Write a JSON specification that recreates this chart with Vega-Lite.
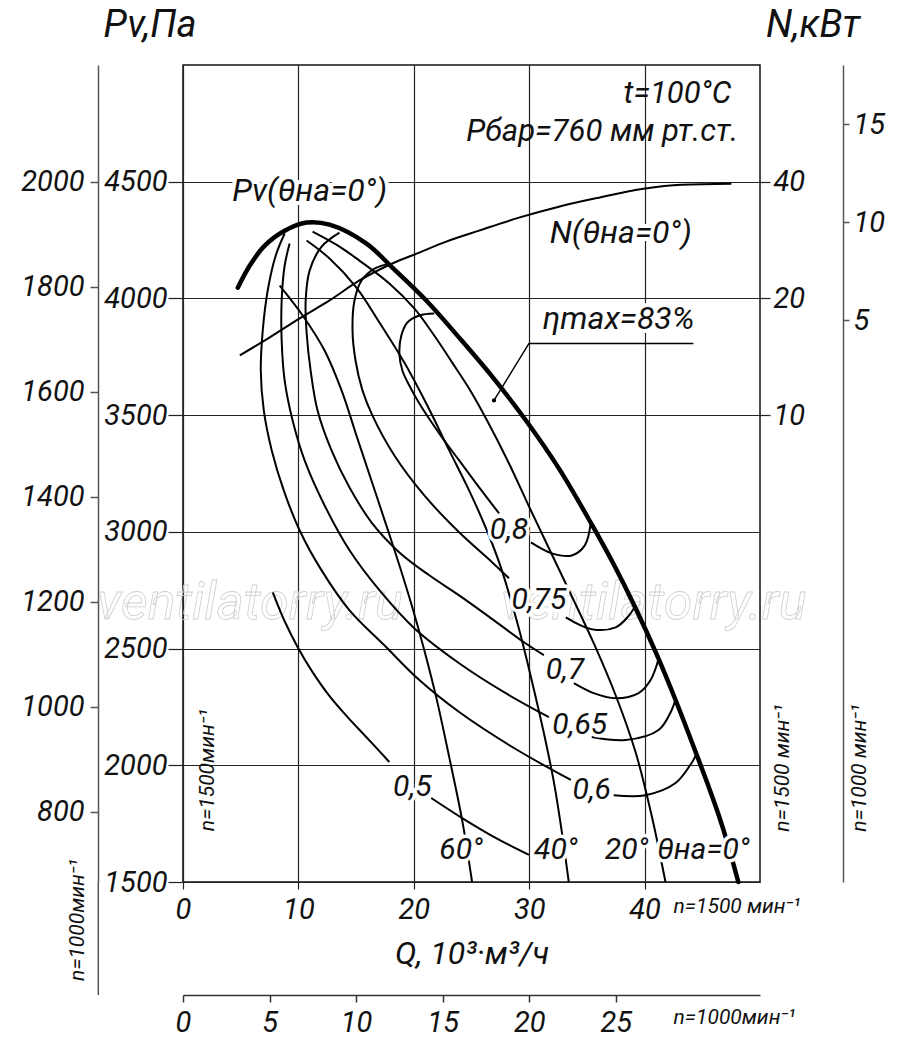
{
"$schema":"https://vega.github.io/schema/vega-lite/v6.json",
"width":577,"height":817,
"autosize":{"type":"none"},
"padding":{"left":183,"top":65,"right":140,"bottom":162},
"background":"white",
"config":{
"font":"Roboto",
"view":{"stroke":"#111","strokeWidth":1.5},
"axis":{"labelFont":"Roboto","labelFontStyle":"italic","labelColor":"#111","titleFont":"Roboto","titleColor":"#111"},
"text":{"font":"Roboto","fontStyle":"italic","color":"#111"}
},
"datasets":{
"thick":[
{"Q":4.75,"Pv":4046},{"Q":5.79,"Pv":4141},{"Q":7.08,"Pv":4226},{"Q":8.81,"Pv":4290},{"Q":10.71,"Pv":4325},{"Q":12.70,"Pv":4316},{"Q":15.90,"Pv":4235},{"Q":18.14,"Pv":4132},{"Q":21.08,"Pv":3991},{"Q":23.93,"Pv":3832},{"Q":26.78,"Pv":3666},{"Q":29.72,"Pv":3477},{"Q":32.57,"Pv":3272},{"Q":35.42,"Pv":3032},{"Q":37.32,"Pv":2861},{"Q":39.22,"Pv":2673},{"Q":41.04,"Pv":2476},{"Q":42.76,"Pv":2270},{"Q":44.49,"Pv":2048},{"Q":45.53,"Pv":1911},{"Q":46.39,"Pv":1791},{"Q":47.26,"Pv":1654},{"Q":48.12,"Pv":1500}
],
"thin":[
{"c":"t20","i":0,"Q":11.23,"Pv":4286},{"c":"t20","i":1,"Q":13.56,"Pv":4222},{"c":"t20","i":2,"Q":15.29,"Pv":4162},{"c":"t20","i":3,"Q":17.88,"Pv":4064},{"c":"t20","i":4,"Q":20.04,"Pv":3957},{"c":"t20","i":5,"Q":21.77,"Pv":3841},{"c":"t20","i":6,"Q":23.33,"Pv":3725},{"c":"t20","i":7,"Q":24.79,"Pv":3614},{"c":"t20","i":8,"Q":26.35,"Pv":3477},{"c":"t20","i":9,"Q":28.25,"Pv":3293},{"c":"t20","i":10,"Q":29.98,"Pv":3109},{"c":"t20","i":11,"Q":31.79,"Pv":2921},{"c":"t20","i":12,"Q":33.69,"Pv":2724},{"c":"t20","i":13,"Q":35.59,"Pv":2523},{"c":"t20","i":14,"Q":37.49,"Pv":2300},{"c":"t20","i":15,"Q":39.22,"Pv":2056},{"c":"t20","i":16,"Q":40.60,"Pv":1787},{"c":"t20","i":17,"Q":41.81,"Pv":1500},
{"c":"t40","i":0,"Q":10.71,"Pv":4248},{"c":"t40","i":1,"Q":12.70,"Pv":4171},{"c":"t40","i":2,"Q":15.03,"Pv":4046},{"c":"t40","i":3,"Q":17.02,"Pv":3897},{"c":"t40","i":4,"Q":19.18,"Pv":3725},{"c":"t40","i":5,"Q":21.17,"Pv":3541},{"c":"t40","i":6,"Q":23.07,"Pv":3349},{"c":"t40","i":7,"Q":24.79,"Pv":3178},{"c":"t40","i":8,"Q":26.18,"Pv":3024},{"c":"t40","i":9,"Q":27.39,"Pv":2870},{"c":"t40","i":10,"Q":28.42,"Pv":2707},{"c":"t40","i":11,"Q":29.37,"Pv":2536},{"c":"t40","i":12,"Q":30.32,"Pv":2343},{"c":"t40","i":13,"Q":31.27,"Pv":2138},{"c":"t40","i":14,"Q":32.14,"Pv":1928},{"c":"t40","i":15,"Q":32.83,"Pv":1714},{"c":"t40","i":16,"Q":33.43,"Pv":1500},
{"c":"t60","i":0,"Q":8.38,"Pv":4055},{"c":"t60","i":1,"Q":10.37,"Pv":3927},{"c":"t60","i":2,"Q":12.27,"Pv":3777},{"c":"t60","i":3,"Q":13.74,"Pv":3606},{"c":"t60","i":4,"Q":15.03,"Pv":3413},{"c":"t60","i":5,"Q":16.33,"Pv":3220},{"c":"t60","i":6,"Q":17.62,"Pv":3028},{"c":"t60","i":7,"Q":18.75,"Pv":2857},{"c":"t60","i":8,"Q":19.87,"Pv":2677},{"c":"t60","i":9,"Q":20.91,"Pv":2493},{"c":"t60","i":10,"Q":21.94,"Pv":2292},{"c":"t60","i":11,"Q":23.07,"Pv":2035},{"c":"t60","i":12,"Q":24.19,"Pv":1765},{"c":"t60","i":13,"Q":25.05,"Pv":1500},
{"c":"e80a","i":0,"Q":21.77,"Pv":3935},{"c":"e80a","i":1,"Q":20.48,"Pv":3927},{"c":"e80a","i":2,"Q":19.44,"Pv":3897},{"c":"e80a","i":3,"Q":18.92,"Pv":3841},{"c":"e80a","i":4,"Q":18.75,"Pv":3764},{"c":"e80a","i":5,"Q":19.01,"Pv":3691},{"c":"e80a","i":6,"Q":19.61,"Pv":3627},{"c":"e80a","i":7,"Q":20.48,"Pv":3550},{"c":"e80a","i":8,"Q":22.46,"Pv":3404},{"c":"e80a","i":9,"Q":23.93,"Pv":3306},{"c":"e80a","i":10,"Q":25.40,"Pv":3208},{"c":"e80a","i":11,"Q":26.52,"Pv":3135},{"c":"e80a","i":12,"Q":27.39,"Pv":3079},
{"c":"e80b","i":0,"Q":30.15,"Pv":2955},{"c":"e80b","i":1,"Q":31.97,"Pv":2908},{"c":"e80b","i":2,"Q":33.69,"Pv":2899},{"c":"e80b","i":3,"Q":34.82,"Pv":2942},{"c":"e80b","i":4,"Q":35.33,"Pv":3036},
{"c":"e75a","i":0,"Q":17.88,"Pv":4149},{"c":"e75a","i":1,"Q":16.59,"Pv":4128},{"c":"e75a","i":2,"Q":15.46,"Pv":4076},{"c":"e75a","i":3,"Q":14.86,"Pv":3991},{"c":"e75a","i":4,"Q":14.69,"Pv":3862},{"c":"e75a","i":5,"Q":14.95,"Pv":3734},{"c":"e75a","i":6,"Q":15.55,"Pv":3606},{"c":"e75a","i":7,"Q":16.41,"Pv":3499},{"c":"e75a","i":8,"Q":18.32,"Pv":3327},{"c":"e75a","i":9,"Q":20.91,"Pv":3156},{"c":"e75a","i":10,"Q":23.93,"Pv":2998},{"c":"e75a","i":11,"Q":26.78,"Pv":2870},{"c":"e75a","i":12,"Q":28.25,"Pv":2801},
{"c":"e75b","i":0,"Q":33.17,"Pv":2634},{"c":"e75b","i":1,"Q":35.42,"Pv":2583},{"c":"e75b","i":2,"Q":37.49,"Pv":2591},{"c":"e75b","i":3,"Q":38.62,"Pv":2640},{"c":"e75b","i":4,"Q":39.22,"Pv":2685},
{"c":"e70a","i":0,"Q":13.56,"Pv":4282},{"c":"e70a","i":1,"Q":12.01,"Pv":4222},{"c":"e70a","i":2,"Q":10.97,"Pv":4119},{"c":"e70a","i":3,"Q":10.63,"Pv":3991},{"c":"e70a","i":4,"Q":10.71,"Pv":3854},{"c":"e70a","i":5,"Q":11.06,"Pv":3691},{"c":"e70a","i":6,"Q":11.66,"Pv":3520},{"c":"e70a","i":7,"Q":12.87,"Pv":3349},{"c":"e70a","i":8,"Q":14.43,"Pv":3190},{"c":"e70a","i":9,"Q":16.33,"Pv":3041},{"c":"e70a","i":10,"Q":18.75,"Pv":2912},{"c":"e70a","i":11,"Q":21.34,"Pv":2814},{"c":"e70a","i":12,"Q":23.93,"Pv":2728},{"c":"e70a","i":13,"Q":26.95,"Pv":2621},{"c":"e70a","i":14,"Q":29.55,"Pv":2527},{"c":"e70a","i":15,"Q":31.27,"Pv":2472},
{"c":"e70b","i":0,"Q":33.87,"Pv":2352},{"c":"e70b","i":1,"Q":35.59,"Pv":2309},{"c":"e70b","i":2,"Q":37.49,"Pv":2287},{"c":"e70b","i":3,"Q":39.48,"Pv":2309},{"c":"e70b","i":4,"Q":40.52,"Pv":2365},{"c":"e70b","i":5,"Q":41.21,"Pv":2455},
{"c":"e65a","i":0,"Q":9.24,"Pv":4235},{"c":"e65a","i":1,"Q":8.81,"Pv":4141},{"c":"e65a","i":2,"Q":8.55,"Pv":3991},{"c":"e65a","i":3,"Q":8.55,"Pv":3820},{"c":"e65a","i":4,"Q":8.81,"Pv":3648},{"c":"e65a","i":5,"Q":9.50,"Pv":3477},{"c":"e65a","i":6,"Q":10.54,"Pv":3306},{"c":"e65a","i":7,"Q":12.27,"Pv":3113},{"c":"e65a","i":8,"Q":14.43,"Pv":2921},{"c":"e65a","i":9,"Q":17.02,"Pv":2750},{"c":"e65a","i":10,"Q":20.04,"Pv":2587},{"c":"e65a","i":11,"Q":23.93,"Pv":2437},{"c":"e65a","i":12,"Q":27.82,"Pv":2313},{"c":"e65a","i":13,"Q":31.71,"Pv":2206},
{"c":"e65b","i":0,"Q":35.42,"Pv":2121},{"c":"e65b","i":1,"Q":38.36,"Pv":2108},{"c":"e65b","i":2,"Q":41.21,"Pv":2151},{"c":"e65b","i":3,"Q":42.33,"Pv":2235},{"c":"e65b","i":4,"Q":42.68,"Pv":2283},
{"c":"e60a","i":0,"Q":8.81,"Pv":4278},{"c":"e60a","i":1,"Q":8.03,"Pv":4183},{"c":"e60a","i":2,"Q":7.34,"Pv":4034},{"c":"e60a","i":3,"Q":6.91,"Pv":3862},{"c":"e60a","i":4,"Q":6.74,"Pv":3691},{"c":"e60a","i":5,"Q":7.00,"Pv":3520},{"c":"e60a","i":6,"Q":7.69,"Pv":3349},{"c":"e60a","i":7,"Q":8.73,"Pv":3178},{"c":"e60a","i":8,"Q":10.11,"Pv":3006},{"c":"e60a","i":9,"Q":12.01,"Pv":2835},{"c":"e60a","i":10,"Q":14.43,"Pv":2664},{"c":"e60a","i":11,"Q":17.45,"Pv":2514},{"c":"e60a","i":12,"Q":20.48,"Pv":2365},{"c":"e60a","i":13,"Q":23.93,"Pv":2228},{"c":"e60a","i":14,"Q":28.68,"Pv":2074},{"c":"e60a","i":15,"Q":33.61,"Pv":1937},
{"c":"e60b","i":0,"Q":37.32,"Pv":1872},{"c":"e60b","i":1,"Q":40.09,"Pv":1872},{"c":"e60b","i":2,"Q":42.68,"Pv":1924},{"c":"e60b","i":3,"Q":44.06,"Pv":2009},{"c":"e60b","i":4,"Q":44.49,"Pv":2048},
{"c":"e50a","i":0,"Q":7.78,"Pv":2741},{"c":"e50a","i":1,"Q":8.81,"Pv":2617},{"c":"e50a","i":2,"Q":9.94,"Pv":2506},{"c":"e50a","i":3,"Q":11.23,"Pv":2399},{"c":"e50a","i":4,"Q":12.70,"Pv":2296},{"c":"e50a","i":5,"Q":14.34,"Pv":2202},{"c":"e50a","i":6,"Q":15.98,"Pv":2116},{"c":"e50a","i":7,"Q":17.88,"Pv":2014},
{"c":"e50b","i":0,"Q":21.51,"Pv":1860},{"c":"e50b","i":1,"Q":24.19,"Pv":1774},{"c":"e50b","i":2,"Q":27.13,"Pv":1688},{"c":"e50b","i":3,"Q":29.98,"Pv":1616}
],
"ptr":[{"i":0,"Q":26.95,"Pv":3563},{"i":1,"Q":29.98,"Pv":3807},{"i":2,"Q":44.23,"Pv":3807}],
"dot":[{"Q":26.95,"Pv":3563}],
"ext":[{"Q":-7.34,"Pv":1016,"Pv2":1500}],
"power":[
{"Q":4.92,"N":14.26},{"Q":7.52,"N":15.87},{"Q":10.11,"N":17.77},{"Q":12.70,"N":19.76},{"Q":15.29,"N":22.25},{"Q":18.14,"N":24.61},{"Q":20.48,"N":26.26},{"Q":22.81,"N":28.03},{"Q":25.66,"N":29.92},{"Q":29.11,"N":32.31},{"Q":32.57,"N":34.49},{"Q":36.03,"N":36.38},{"Q":39.91,"N":38.37},{"Q":43.20,"N":39.29},{"Q":47.52,"N":39.53}
],
"lab":[
{"t":"0,8","Q":28.25,"Pv":3006},{"t":"0,75","Q":30.84,"Pv":2707},{"t":"0,7","Q":33.09,"Pv":2407},{"t":"0,65","Q":34.38,"Pv":2172},{"t":"0,6","Q":35.42,"Pv":1894},{"t":"0,5","Q":19.87,"Pv":1907},
{"t":"60°","Q":24.10,"Pv":1637},{"t":"40°","Q":32.31,"Pv":1637},{"t":"20°","Q":38.44,"Pv":1637},{"t":"θна=0°","Q":45.10,"Pv":1637}
],
"ann":[{"t":"Pv(θна=0°)","Q":10.97,"Pv":4462},{"t":"N(θна=0°)","Q":37.93,"Pv":4282},{"t":"ηmax=83%","Q":37.75,"Pv":3914}],
"cond":[{"t":"t=100°C","Q":47.52,"Pv":4877},{"t":"Pбар=760 мм рт.ст.","Q":48.12,"Pv":4714}],
"vert":[{"t":"n=1500мин⁻¹","Q":2.16,"Pv":1979},{"t":"n=1000мин⁻¹","Q":-9.07,"Pv":1337},{"t":"n=1500 мин⁻¹","Q":52.01,"Pv":1988},{"t":"n=1000 мин⁻¹","Q":58.66,"Pv":1988}],
"horiz":[{"t":"n=1500 мин⁻¹","Q":42.51,"Pv":1393},{"t":"n=1000мин⁻¹","Q":42.51,"Pv":918}],
"heads":[{"t":"Pv,Па","Q":-2.85,"Pv":5168},{"t":"N,кВт","Q":54.60,"Pv":5168}],
"wm":[{"t":"ventilatorry.ru","Q":5.79,"Pv":2694},{"t":"ventilatorry.ru","Q":40.78,"Pv":2694}]
},
"layer":[
{"data":{"name":"wm"},"mark":{"type":"text","fontSize":52,"fontStyle":"italic","fillOpacity":0,"stroke":"#cfcfcf","strokeWidth":0.8},
"encoding":{"x":{"field":"Q","type":"quantitative","scale":{"domain":[0,50],"nice":false,"zero":false},"axis":null},"y":{"field":"Pv","type":"quantitative","scale":{"domain":[1500,5000],"nice":false,"zero":false},"axis":null},"text":{"field":"t"}}},
{"data":{"name":"thin"},"mark":{"type":"line","interpolate":"catmull-rom","color":"#000","strokeWidth":2},
"encoding":{
"x":{"field":"Q","type":"quantitative","scale":{"domain":[0,50],"nice":false,"zero":false},
"axis":{"orient":"bottom","values":[0,10,20,30,40],"format":"d","grid":true,"gridColor":"#222","gridWidth":1.2,"domain":false,"tickSize":7,"tickWidth":1.2,"tickColor":"#222","labelFontSize":29,"labelPadding":6,"labelFlush":false,"labelOverlap":false,"title":"Q, 10³·м³/ч","titleFontSize":32,"titleFontStyle":"italic","titleFontWeight":"normal","titlePadding":14}},
"y":{"field":"Pv","type":"quantitative","scale":{"domain":[1500,5000],"nice":false,"zero":false},
"axis":{"orient":"left","values":[1500,2000,2500,3000,3500,4000,4500],"format":"d","grid":true,"gridColor":"#222","gridWidth":1.2,"domain":false,"tickSize":15,"tickWidth":1.2,"tickColor":"#222","labelFontSize":29,"labelPadding":1,"labelFlush":false,"labelOverlap":false,"title":null}},
"detail":{"field":"c"},"order":{"field":"i"}}},
{"data":{"name":"thick"},"mark":{"type":"line","interpolate":"catmull-rom","color":"#000","strokeWidth":4.5,"strokeCap":"round"},
"encoding":{"x":{"field":"Q","type":"quantitative","scale":{"domain":[0,50],"nice":false,"zero":false},"axis":null},"y":{"field":"Pv","type":"quantitative","scale":{"domain":[1500,5000],"nice":false,"zero":false},"axis":null}}},
{"data":{"name":"ptr"},"mark":{"type":"line","color":"#000","strokeWidth":1.5},
"encoding":{"x":{"field":"Q","type":"quantitative","scale":{"domain":[0,50],"nice":false,"zero":false},"axis":null},"y":{"field":"Pv","type":"quantitative","scale":{"domain":[1500,5000],"nice":false,"zero":false},"axis":null},"order":{"field":"i"}}},
{"data":{"name":"dot"},"mark":{"type":"point","filled":true,"color":"#000","size":18,"opacity":1},
"encoding":{"x":{"field":"Q","type":"quantitative","scale":{"domain":[0,50],"nice":false,"zero":false},"axis":null},"y":{"field":"Pv","type":"quantitative","scale":{"domain":[1500,5000],"nice":false,"zero":false},"axis":null}}},
{"data":{"name":"ext"},"mark":{"type":"rule","color":"#555","strokeWidth":1.5},
"encoding":{"x":{"field":"Q","type":"quantitative","scale":{"domain":[0,50],"nice":false,"zero":false},"axis":null},"y":{"field":"Pv","type":"quantitative","scale":{"domain":[1500,5000],"nice":false,"zero":false},"axis":null},"y2":{"field":"Pv2"}}},
{"data":{"name":"lab"},"mark":{"type":"text","fontSize":30,"fontStyle":"italic","fill":"white","stroke":"white","strokeWidth":7,"strokeJoin":"round"},
"encoding":{"x":{"field":"Q","type":"quantitative","scale":{"domain":[0,50],"nice":false,"zero":false},"axis":null},"y":{"field":"Pv","type":"quantitative","scale":{"domain":[1500,5000],"nice":false,"zero":false},"axis":null},"text":{"field":"t"}}},
{"data":{"name":"lab"},"mark":{"type":"text","fontSize":30,"fontStyle":"italic","color":"#111"},
"encoding":{"x":{"field":"Q","type":"quantitative","scale":{"domain":[0,50],"nice":false,"zero":false},"axis":null},"y":{"field":"Pv","type":"quantitative","scale":{"domain":[1500,5000],"nice":false,"zero":false},"axis":null},"text":{"field":"t"}}},
{"data":{"name":"ann"},"mark":{"type":"text","fontSize":32,"fontStyle":"italic","fill":"white","stroke":"white","strokeWidth":8,"strokeJoin":"round"},
"encoding":{"x":{"field":"Q","type":"quantitative","scale":{"domain":[0,50],"nice":false,"zero":false},"axis":null},"y":{"field":"Pv","type":"quantitative","scale":{"domain":[1500,5000],"nice":false,"zero":false},"axis":null},"text":{"field":"t"}}},
{"data":{"name":"ann"},"mark":{"type":"text","fontSize":32,"fontStyle":"italic","color":"#111"},
"encoding":{"x":{"field":"Q","type":"quantitative","scale":{"domain":[0,50],"nice":false,"zero":false},"axis":null},"y":{"field":"Pv","type":"quantitative","scale":{"domain":[1500,5000],"nice":false,"zero":false},"axis":null},"text":{"field":"t"}}},
{"data":{"name":"cond"},"mark":{"type":"text","fontSize":31,"fontStyle":"italic","align":"right","color":"#111"},
"encoding":{"x":{"field":"Q","type":"quantitative","scale":{"domain":[0,50],"nice":false,"zero":false},"axis":null},"y":{"field":"Pv","type":"quantitative","scale":{"domain":[1500,5000],"nice":false,"zero":false},"axis":null},"text":{"field":"t"}}},
{"data":{"name":"vert"},"mark":{"type":"text","fontSize":21,"fontStyle":"italic","angle":270,"color":"#111"},
"encoding":{"x":{"field":"Q","type":"quantitative","scale":{"domain":[0,50],"nice":false,"zero":false},"axis":null},"y":{"field":"Pv","type":"quantitative","scale":{"domain":[1500,5000],"nice":false,"zero":false},"axis":null},"text":{"field":"t"}}},
{"data":{"name":"horiz"},"mark":{"type":"text","fontSize":21,"fontStyle":"italic","align":"left","color":"#111"},
"encoding":{"x":{"field":"Q","type":"quantitative","scale":{"domain":[0,50],"nice":false,"zero":false},"axis":null},"y":{"field":"Pv","type":"quantitative","scale":{"domain":[1500,5000],"nice":false,"zero":false},"axis":null},"text":{"field":"t"}}},
{"data":{"name":"heads"},"mark":{"type":"text","fontSize":38,"fontStyle":"italic","color":"#111"},
"encoding":{"x":{"field":"Q","type":"quantitative","scale":{"domain":[0,50],"nice":false,"zero":false},"axis":null},"y":{"field":"Pv","type":"quantitative","scale":{"domain":[1500,5000],"nice":false,"zero":false},"axis":null},"text":{"field":"t"}}},
{"data":{"name":"power"},"mark":{"type":"line","interpolate":"monotone","color":"#000","strokeWidth":2},
"encoding":{"x":{"field":"Q","type":"quantitative","scale":{"domain":[0,50],"nice":false,"zero":false},"axis":null},
"y":{"field":"N","type":"quantitative","scale":{"type":"log","base":2,"domain":[0.625,80],"nice":false},
"axis":{"orient":"right","values":[10,20,40],"labelExpr":"datum.value","grid":false,"domain":false,"tickSize":10,"tickWidth":1.2,"tickColor":"#222","labelFontSize":29,"labelPadding":3,"labelFlush":false,"labelOverlap":false,"title":null}}}},
{"data":{"values":[{"v":800},{"v":1000},{"v":1200},{"v":1400},{"v":1600},{"v":1800},{"v":2000}]},"mark":{"type":"rule","opacity":0},
"encoding":{"y":{"field":"v","type":"quantitative","scale":{"domain":[666.67,2222.22],"nice":false,"zero":false},
"axis":{"orient":"left","offset":85,"values":[800,1000,1200,1400,1600,1800,2000],"format":"d","grid":false,"domain":true,"domainColor":"#555","domainWidth":1.5,"tickSize":8,"tickColor":"#555","tickWidth":1.5,"labelFontSize":29,"labelPadding":6,"labelFlush":false,"labelOverlap":false,"title":null}}}},
{"data":{"values":[{"v":5},{"v":10},{"v":15}]},"mark":{"type":"rule","opacity":0},
"encoding":{"y":{"field":"v","type":"quantitative","scale":{"domain":[-23.67,18.01],"nice":false,"zero":false},
"axis":{"orient":"right","offset":83,"values":[5,10,15],"format":"d","grid":false,"domain":true,"domainColor":"#555","domainWidth":1.5,"tickSize":6,"tickColor":"#555","tickWidth":1.5,"labelFontSize":29,"labelPadding":4,"labelFlush":false,"labelOverlap":false,"title":null}}}},
{"data":{"values":[{"v":0},{"v":5},{"v":10},{"v":15},{"v":20},{"v":25}]},"mark":{"type":"rule","opacity":0},
"encoding":{"x":{"field":"v","type":"quantitative","scale":{"domain":[0,33.333],"nice":false,"zero":false},
"axis":{"orient":"bottom","offset":113,"values":[0,5,10,15,20,25],"format":"d","grid":false,"domain":true,"domainColor":"#333","domainWidth":1.5,"tickSize":7,"tickColor":"#333","tickWidth":1.5,"labelFontSize":29,"labelPadding":6,"labelFlush":false,"labelOverlap":false,"title":null}}}}
],
"resolve":{"scale":{"x":"independent","y":"independent"}}
}
